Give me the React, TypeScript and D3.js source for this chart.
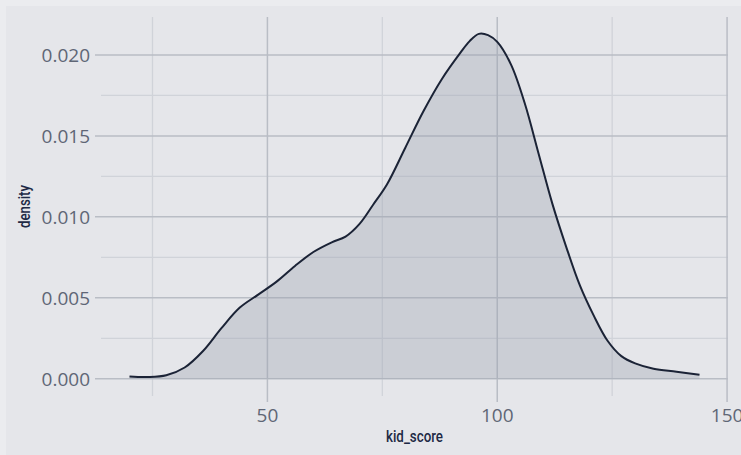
import React from "react";
import * as d3 from "d3";

const kidScore: number[] = [20, 24, 28, 32, 36, 40, 44, 48, 52, 56, 60, 64, 67, 70, 73, 76, 80, 84, 88, 92, 94, 96, 98, 100, 103, 106, 109, 112, 115, 118, 121, 124, 127, 130, 134, 139, 144];
const density: number[] = [0.00014, 0.00011, 0.00022, 0.0007, 0.00172, 0.00313, 0.0044, 0.0052, 0.006, 0.00697, 0.00783, 0.00843, 0.00878, 0.00955, 0.01075, 0.012, 0.01427, 0.01655, 0.01853, 0.02014, 0.02085, 0.0213, 0.02122, 0.0208, 0.0194, 0.017, 0.0139, 0.0108, 0.00815, 0.00575, 0.0039, 0.00235, 0.0014, 0.00095, 0.00062, 0.00044, 0.00025];

const xMajorTicks: number[] = [50, 100, 150];
const xMinorTicks: number[] = [25, 75, 125];
const yMajorTicks: number[] = [0, 0.005, 0.01, 0.015, 0.02];
const yMinorTicks: number[] = [0.0025, 0.0075, 0.0125, 0.0175];
const xTitle = "kid_score";
const yTitle = "density";

const W = 741;
const H = 455;

export default function App() {
  const x = d3.scaleLinear().domain([13.8, 150.2]).range([101, 728]);
  const y = d3.scaleLinear().domain([-0.00106, 0.02234]).range([396, 17]);
  const pts: [number, number][] = kidScore.map((k, i) => [k, density[i]]);
  const curve = d3.curveCatmullRom.alpha(0.5);
  const line = d3
    .line<[number, number]>()
    .x((d) => x(d[0]))
    .y((d) => y(d[1]))
    .curve(curve);
  const area = d3
    .area<[number, number]>()
    .x((d) => x(d[0]))
    .y0(() => y(0))
    .y1((d) => y(d[1]))
    .curve(curve);
  const fmt = d3.format(".3f");
  const [x0, x1] = x.range();
  const [yb, yt] = y.range();
  const tickFont = "'Open Sans', 'Noto Sans', sans-serif";
  const titleFont = "Roboto, 'Noto Sans', sans-serif";
  return (
    <svg
      width={W}
      height={H}
      style={{ position: "absolute", left: 0, top: 0, display: "block" }}
    >
      <rect x={0} y={0} width={W} height={H} fill="#ebecef" />
      <rect x={6} y={6} width={W - 6} height={H - 6} fill="#e5e6ea" />
      {yMinorTicks.map((t) => (
        <line key={"ym" + t} x1={x0} x2={x1} y1={y(t)} y2={y(t)} stroke="#d0d3d9" strokeWidth={1.3} />
      ))}
      {xMinorTicks.map((t) => (
        <line key={"xm" + t} x1={x(t)} x2={x(t)} y1={yt} y2={yb} stroke="#d0d3d9" strokeWidth={1.3} />
      ))}
      {yMajorTicks.map((t) => (
        <line key={"yM" + t} x1={x0 - 6} x2={x1} y1={y(t)} y2={y(t)} stroke="#b9bdc5" strokeWidth={1.5} />
      ))}
      {xMajorTicks.map((t) => (
        <line key={"xM" + t} x1={x(t)} x2={x(t)} y1={yt} y2={yb + 6} stroke="#b9bdc5" strokeWidth={1.5} />
      ))}
      <path d={area(pts) || ""} fill="#9aa0b0" fillOpacity={0.35} />
      <path d={line(pts) || ""} fill="none" stroke="#1b2336" strokeWidth={2} />
      {yMajorTicks.map((t) => (
        <text
          key={"yl" + t}
          x={90}
          y={y(t)}
          textAnchor="end"
          dominantBaseline="central"
          fontFamily={tickFont}
          fontSize={19}
          fill="#5f6676"
        >
          {fmt(t)}
        </text>
      ))}
      {xMajorTicks.map((t) => (
        <text
          key={"xl" + t}
          x={x(t)}
          y={422}
          textAnchor="middle"
          fontFamily={tickFont}
          fontSize={19}
          fill="#5f6676"
        >
          {t}
        </text>
      ))}
      <text
        x={(x0 + x1) / 2}
        y={442}
        textAnchor="middle"
        fontFamily={titleFont}
        fontSize={17}
        fontWeight={500}
        fill="#1e2a45"
        textLength={57}
        lengthAdjust="spacingAndGlyphs"
      >
        {xTitle}
      </text>
      <text
        transform={`translate(30, ${(yt + yb) / 2}) rotate(-90)`}
        textAnchor="middle"
        fontFamily={titleFont}
        fontSize={17}
        fontWeight={500}
        fill="#1e2a45"
        textLength={43}
        lengthAdjust="spacingAndGlyphs"
      >
        {yTitle}
      </text>
    </svg>
  );
}
